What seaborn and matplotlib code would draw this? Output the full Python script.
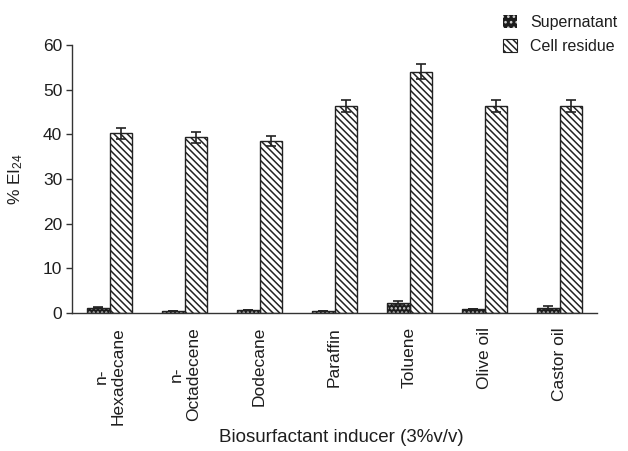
import matplotlib
matplotlib.use("Agg")
import matplotlib.pyplot as plt
from matplotlib.patches import Patch, Rectangle
import seaborn as sns
import pandas as pd
import numpy as np

categories = ['n-\nHexadecane', 'n-\nOctadecene', 'Dodecane', 'Paraffin',
              'Toluene', 'Olive oil', 'Castor oil']
supernatant = [1.2, 0.5, 0.7, 0.5, 2.3, 0.9, 1.2]
supernatant_err = [0.1, 0.05, 0.05, 0.05, 0.3, 0.05, 0.3]
cell_residue = [40.2, 39.3, 38.5, 46.4, 54.0, 46.4, 46.4]
cell_residue_err = [1.2, 1.2, 1.1, 1.35, 1.7, 1.35, 1.35]
series_names = ['Supernatant', 'Cell residue']
yticks = [0, 10, 20, 30, 40, 50, 60]

sns.set_style('white')
plt.rcParams['font.family'] = ['Liberation Sans', 'DejaVu Sans']
plt.rcParams['mathtext.default'] = 'regular'
plt.rcParams['hatch.linewidth'] = 1.1

df = pd.DataFrame({
    'Inducer': categories * 2,
    'Series': [series_names[0]] * len(categories) + [series_names[1]] * len(categories),
    'Value': supernatant + cell_residue,
})

fig = plt.figure(figsize=(6.28, 4.51), dpi=100)
ax = fig.add_axes([72 / 628, 1 - 313 / 451, 525 / 628, 268 / 451])

sns.barplot(data=df, x='Inducer', y='Value', hue='Series', order=categories,
            hue_order=series_names, width=0.6, errorbar=None, legend=False,
            palette=['#1c1c1c', 'white'], ax=ax)

txt = '#1e1e1e'
sup_bars = ax.containers[0]
cell_bars = ax.containers[1]
for b in sup_bars:
    b.set_facecolor('#1c1c1c')
    b.set_edgecolor('#d0d0d0')
    b.set_hatch('....')
    b.set_linewidth(0)
    ax.add_patch(Rectangle(b.get_xy(), b.get_width(), b.get_height(),
                           fill=False, edgecolor='#222222', linewidth=1.0, zorder=b.get_zorder() + 0.1))
for b in cell_bars:
    b.set_facecolor('white')
    b.set_edgecolor('#222222')
    b.set_hatch('\\\\\\\\\\')
    b.set_linewidth(1.0)

# error bars at the library-computed bar centres
sx = [b.get_x() + b.get_width() / 2 for b in sup_bars]
cx = [b.get_x() + b.get_width() / 2 for b in cell_bars]
ax.errorbar(sx, supernatant, yerr=supernatant_err, fmt='none', ecolor='#222222',
            elinewidth=1.2, capsize=3.5, capthick=1.2, zorder=5)
ax.errorbar(cx, cell_residue, yerr=cell_residue_err, fmt='none', ecolor='#222222',
            elinewidth=1.2, capsize=3.5, capthick=1.2, zorder=5)

ax.set_xlim(-0.5, len(categories) - 0.5)
ax.set_ylim(0, 60)
ax.set_yticks(yticks)
ax.set_yticklabels([str(v) for v in yticks], fontsize=12.5, color=txt)
ax.set_xticks(range(len(categories)))
ax.set_xticklabels(categories, rotation=90, fontsize=12.5, color=txt,
                   va='top', ha='center', multialignment='center')
ax.set_xticks(np.arange(-0.5, len(categories), 1.0), minor=True)
ax.tick_params(axis='x', which='major', length=0, pad=10)
ax.tick_params(axis='x', which='minor', direction='inout', length=7, width=1.0, color='#333333')
ax.tick_params(axis='y', direction='out', length=4, width=1.0, color='#333333', pad=3, left=True)

for s in ['top', 'right']:
    ax.spines[s].set_visible(False)
for s in ['left', 'bottom']:
    ax.spines[s].set_color('#333333')
    ax.spines[s].set_linewidth(1.0)

ax.set_xlabel('Biosurfactant inducer (3%v/v)', fontsize=13.5, color=txt)
ax.xaxis.set_label_coords((341 - 72) / 525, (313 - 429) / 268)
ax.set_ylabel('% EI$_{24}$', fontsize=12.5, color=txt)
ax.yaxis.set_label_coords((25 - 72) / 525, 0.5)

handles = [Patch(facecolor='#1c1c1c', edgecolor='#d0d0d0', hatch='...', linewidth=0),
           Patch(facecolor='white', edgecolor='#222222', hatch='\\\\\\\\\\', linewidth=0.8)]
fig.legend(handles, series_names, loc='upper left',
           bbox_to_anchor=(503 / 628, 1 - 15 / 451), frameon=False, fontsize=11.5,
           handlelength=0.85, handleheight=0.85, handletextpad=0.85,
           labelspacing=0.55, borderpad=0, borderaxespad=0, labelcolor=txt)

fig.savefig('out.png', dpi=100)
